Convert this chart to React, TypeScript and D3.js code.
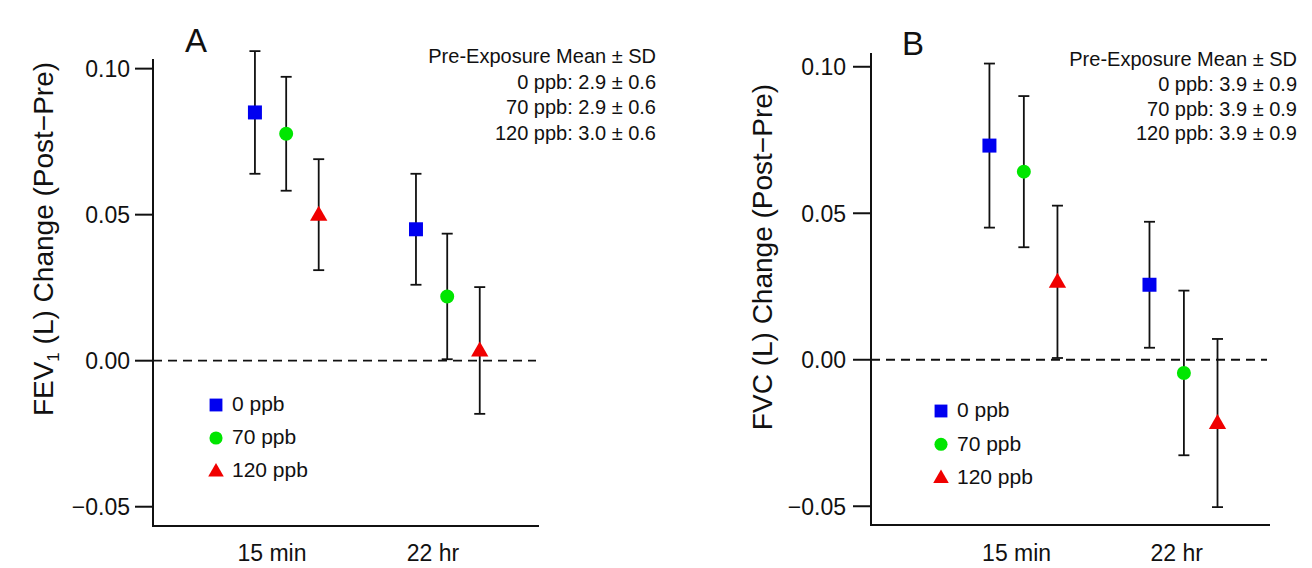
import React from "react";
import * as d3 from "d3";

// ---- Data ----
const timepoints = ["15 min", "22 hr"];
const seriesNames = ["0 ppb", "70 ppb", "120 ppb"];
const seriesColors = ["#0000f0", "#00e600", "#f00000"];
const seriesShapes = ["square", "circle", "triangle"];

// Panel A: FEV1 change (mean, SD) per series, per timepoint
const fevMean0 = [0.085, 0.045];
const fevErr0 = [0.021, 0.019];
const fevMean70 = [0.0777, 0.022];
const fevErr70 = [0.0195, 0.0215];
const fevMean120 = [0.05, 0.0035];
const fevErr120 = [0.019, 0.0217];

// Panel B: FVC change
const fvcMean0 = [0.0731, 0.0256];
const fvcErr0 = [0.028, 0.0215];
const fvcMean70 = [0.0642, -0.0045];
const fvcErr70 = [0.0258, 0.0281];
const fvcMean120 = [0.0266, -0.0216];
const fvcErr120 = [0.026, 0.0287];

const yTicks = [-0.05, 0, 0.05, 0.1];

const noteA = ["Pre-Exposure Mean \u00b1 SD", "0 ppb: 2.9 \u00b1 0.6", "70 ppb: 2.9 \u00b1 0.6", "120 ppb: 3.0 \u00b1 0.6"];
const noteB = ["Pre-Exposure Mean \u00b1 SD", "0 ppb: 3.9 \u00b1 0.9", "70 ppb: 3.9 \u00b1 0.9", "120 ppb: 3.9 \u00b1 0.9"];

const FONT = "'Liberation Sans', Arial, Helvetica, sans-serif";

type PanelCfg = {
  letter: string;
  means: number[][];
  errs: number[][];
  note: string[];
  left: number;
  right: number;
  top: number;
  bottom: number;
  yDomain: [number, number];
  xDomain: [number, number];
  dodge: number[];
  label: React.ReactNode;
  labelX: number;
  labelY: number;
  letterX: number;
  letterY: number;
  noteRight: number;
  noteTop: number;
  noteStep: number;
  legendX: number;
  legendY: number;
  legendStep: number;
  tickLabelGap: number;
};

function symbolPath(shape: string, size: number) {
  const t =
    shape === "square" ? d3.symbolSquare : shape === "circle" ? d3.symbolCircle : d3.symbolTriangle;
  return d3.symbol().type(t).size(size)() as string;
}

function Panel({ cfg }: { cfg: PanelCfg }) {
  const x = d3.scaleLinear().domain(cfg.xDomain).range([cfg.left, cfg.right]);
  const y = d3.scaleLinear().domain(cfg.yDomain).range([cfg.bottom, cfg.top]);
  const fmt = d3.format(".2f");
  const markerSizes = [196, 154, 130];
  const legendSizes = [165, 135, 105];
  const capHalf = 5.5;
  return (
    <g fontFamily={FONT}>
      {/* zero dashed line */}
      <line x1={cfg.left} x2={cfg.right - 3} y1={y(0)} y2={y(0)} stroke="#111" strokeWidth={1.8} strokeDasharray="9,6" />
      {/* axes */}
      <line x1={cfg.left} x2={cfg.left} y1={cfg.top} y2={cfg.bottom} stroke="#111" strokeWidth={2} />
      <line x1={cfg.left - 1} x2={cfg.right} y1={cfg.bottom} y2={cfg.bottom} stroke="#111" strokeWidth={2} />
      {yTicks.map((t) => (
        <g key={t}>
          <line x1={cfg.left - 18} x2={cfg.left} y1={y(t)} y2={y(t)} stroke="#111" strokeWidth={2} />
          <text x={cfg.left - cfg.tickLabelGap} y={y(t)} dy="0.36em" textAnchor="end" fontSize={23} fill="#111">
            {fmt(t)}
          </text>
        </g>
      ))}
      {timepoints.map((tp, i) => (
        <text key={tp} x={x(i)} y={561} textAnchor="middle" fontSize={23} fill="#111">
          {tp}
        </text>
      ))}
      {/* error bars and points */}
      {seriesNames.map((s, si) =>
        timepoints.map((tp, ti) => {
          const cx = x(ti + cfg.dodge[si]);
          const m = cfg.means[si][ti];
          const e = cfg.errs[si][ti];
          const y1 = y(m + e);
          const y2 = y(m - e);
          return (
            <g key={s + tp}>
              <line x1={cx} x2={cx} y1={y1} y2={y2} stroke="#111" strokeWidth={1.8} />
              <line x1={cx - capHalf} x2={cx + capHalf} y1={y1} y2={y1} stroke="#111" strokeWidth={1.8} />
              <line x1={cx - capHalf} x2={cx + capHalf} y1={y2} y2={y2} stroke="#111" strokeWidth={1.8} />
              <path
                d={symbolPath(seriesShapes[si], markerSizes[si])}
                transform={`translate(${cx},${y(m) + (si === 2 ? 1 : 0)})`}
                fill={seriesColors[si]}
              />
            </g>
          );
        })
      )}
      {/* legend */}
      {seriesNames.map((s, si) => (
        <g key={s} transform={`translate(${cfg.legendX},${cfg.legendY + si * cfg.legendStep})`}>
          <path d={symbolPath(seriesShapes[si], legendSizes[si])} transform={`translate(0,${si === 2 ? 1 : 0})`} fill={seriesColors[si]} />
          <text x={16} y={0} dy="0.3em" fontSize={21} fill="#111">
            {s}
          </text>
        </g>
      ))}
      {/* note */}
      {cfg.note.map((line, i) => (
        <text key={i} x={cfg.noteRight} y={cfg.noteTop + i * cfg.noteStep} textAnchor="end" fontSize={20} fill="#111">
          {line}
        </text>
      ))}
      {/* panel letter */}
      <text x={cfg.letterX} y={cfg.letterY} fontSize={33} fill="#111">
        {cfg.letter}
      </text>
      {/* y label */}
      <text
        transform={`translate(${cfg.labelX},${cfg.labelY}) rotate(-90)`}
        textAnchor="middle"
        fontSize={28}
        fill="#111"
      >
        {cfg.label}
      </text>
    </g>
  );
}

const panelA: PanelCfg = {
  letter: "A",
  means: [fevMean0, fevMean70, fevMean120],
  errs: [fevErr0, fevErr70, fevErr120],
  note: noteA,
  left: 153,
  right: 539,
  top: 59,
  bottom: 526,
  yDomain: [-0.0566, 0.1033],
  xDomain: [-0.739, 1.658],
  dodge: [-0.106, 0.088, 0.29],
  label: (
    <>
      FEV
      <tspan fontSize={17} dy={6}>1</tspan>
      <tspan dy={-6}> (L) Change (Post{"\u2212"}Pre)</tspan>
    </>
  ),
  labelX: 53,
  labelY: 239,
  letterX: 185,
  letterY: 52,
  noteRight: 656,
  noteTop: 63,
  noteStep: 25.5,
  legendX: 216,
  legendY: 405,
  legendStep: 33,
  tickLabelGap: 23,
};

const panelB: PanelCfg = {
  letter: "B",
  means: [fvcMean0, fvcMean70, fvcMean120],
  errs: [fvcErr0, fvcErr70, fvcErr120],
  note: noteB,
  left: 871,
  right: 1270,
  top: 53,
  bottom: 525,
  yDomain: [-0.0564, 0.1047],
  xDomain: [-0.91, 1.583],
  dodge: [-0.17, 0.045, 0.255],
  label: <>FVC (L) Change (Post{"\u2212"}Pre)</>,
  labelX: 772,
  labelY: 257,
  letterX: 902,
  letterY: 55,
  noteRight: 1297,
  noteTop: 66,
  noteStep: 24.8,
  legendX: 941,
  legendY: 411,
  legendStep: 33.3,
  tickLabelGap: 25,
};

export default function App() {
  return (
    <svg
      width={1312}
      height={568}
      viewBox="0 0 1312 568"
      style={{ position: "absolute", left: 0, top: 0, background: "#fff" }}
    >
      <rect width={1312} height={568} fill="#fff" />
      <Panel cfg={panelA} />
      <Panel cfg={panelB} />
    </svg>
  );
}
